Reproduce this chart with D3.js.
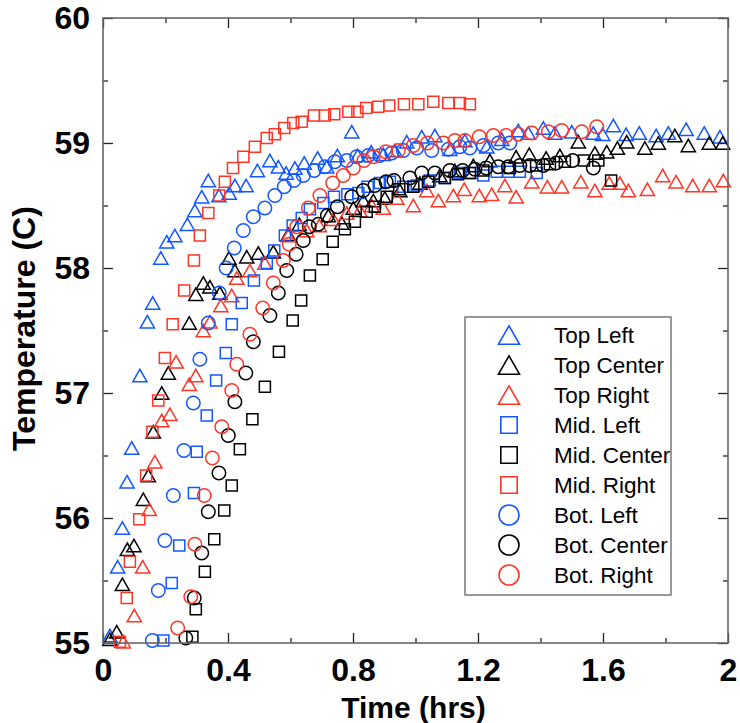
<!DOCTYPE html>
<html>
<head>
<meta charset="utf-8">
<script src="https://cdn.jsdelivr.net/npm/d3@7/dist/d3.min.js"></script>
<style>
  html, body { margin: 0; padding: 0; background: #fff; }
  svg { display: block; }
  .tick text { font-family: "Liberation Sans", Arial, Helvetica, sans-serif; font-weight: bold; }
</style>
</head>
<body>
<svg id="chart" width="740" height="723"></svg>
<script>
// ---------------- DATA ----------------
const xTicks = [0, 0.4, 0.8, 1.2, 1.6, 2];
const xTickLabels = ["0", "0.4", "0.8", "1.2", "1.6", "2"];
const xMinorTicks = [0.2, 0.6, 1.0, 1.4, 1.8];
const yTicks = [55, 56, 57, 58, 59, 60];
const yTickLabels = ["55", "56", "57", "58", "59", "60"];
const yMinorTicks = [55.5, 56.5, 57.5, 58.5, 59.5];

const seriesNames = ["Top Left", "Top Center", "Top Right", "Mid. Left", "Mid. Center", "Mid. Right", "Bot. Left", "Bot. Center", "Bot. Right"];
const seriesColors = ["blue", "black", "red", "blue", "black", "red", "blue", "black", "red"];
const seriesShapes = ["triangle", "triangle", "triangle", "square", "square", "square", "circle", "circle", "circle"];

// [time (hrs), temperature (C)]
const topLeft = [[0.022,55.06],[0.047,55.61],[0.062,55.92],[0.077,56.29],[0.092,56.56],[0.118,57.14],[0.142,57.57],[0.159,57.72],[0.185,58.08],[0.204,58.21],[0.230,58.26],[0.270,58.35],[0.294,58.46],[0.316,58.57],[0.337,58.70],[0.371,58.58],[0.404,58.60],[0.422,58.66],[0.458,58.66],[0.494,58.78],[0.534,58.86],[0.561,58.81],[0.586,58.76],[0.614,58.80],[0.644,58.84],[0.687,58.88],[0.716,58.81],[0.750,58.90],[0.796,59.09],[0.815,58.90],[0.858,58.93],[0.897,58.91],[0.934,58.94],[0.972,59.01],[1.020,59.05],[1.062,59.06],[1.110,58.95],[1.158,59.02],[1.228,58.97],[1.276,59.03],[1.329,59.10],[1.361,59.08],[1.409,59.12],[1.446,59.08],[1.500,59.09],[1.569,59.08],[1.599,59.07],[1.633,59.14],[1.674,59.07],[1.716,59.08],[1.770,59.06],[1.809,59.08],[1.866,59.11],[1.924,59.08],[1.974,59.05]];
const topCenter = [[0.022,55.03],[0.044,55.09],[0.062,55.47],[0.078,55.75],[0.099,55.78],[0.129,56.15],[0.145,56.34],[0.161,56.69],[0.188,57.00],[0.209,57.16],[0.276,57.56],[0.297,57.79],[0.321,57.88],[0.342,57.85],[0.374,57.80],[0.403,58.08],[0.422,57.98],[0.460,58.09],[0.497,58.12],[0.545,58.13],[0.593,58.27],[0.628,58.35],[0.721,58.42],[0.764,58.36],[0.801,58.48],[0.833,58.54],[0.865,58.54],[0.902,58.56],[0.950,58.62],[1.014,58.68],[1.078,58.74],[1.126,58.78],[1.185,58.82],[1.238,58.86],[1.322,58.89],[1.364,58.91],[1.418,58.88],[1.462,58.90],[1.521,59.01],[1.574,58.92],[1.612,58.93],[1.646,58.96],[1.676,59.01],[1.734,58.96],[1.777,59.00],[1.830,59.06],[1.873,58.98],[1.940,59.00],[1.983,59.00]];
const topRight = [[0.065,55.01],[0.100,55.22],[0.127,55.61],[0.148,56.07],[0.166,56.45],[0.188,56.78],[0.214,56.83],[0.234,57.25],[0.276,57.07],[0.297,57.14],[0.321,57.50],[0.342,57.57],[0.377,57.70],[0.412,57.78],[0.428,57.92],[0.470,57.98],[0.518,58.04],[0.593,58.26],[0.652,58.30],[0.692,58.34],[0.737,58.39],[0.780,58.44],[0.822,58.46],[0.860,58.50],[0.897,58.48],[0.940,58.56],[0.993,58.50],[1.036,58.62],[1.073,58.54],[1.121,58.58],[1.156,58.63],[1.204,58.58],[1.244,58.59],[1.286,58.66],[1.322,58.57],[1.372,58.69],[1.422,58.65],[1.468,58.65],[1.529,58.69],[1.574,58.62],[1.620,58.68],[1.654,58.68],[1.681,58.62],[1.742,58.63],[1.791,58.74],[1.834,58.69],[1.887,58.66],[1.940,58.66],[1.985,58.70]];
const midLeft = [[0.193,55.02],[0.220,55.48],[0.244,55.78],[0.291,56.20],[0.300,56.53],[0.332,56.82],[0.362,57.10],[0.393,57.32],[0.412,57.55],[0.444,57.72],[0.483,57.90],[0.524,58.04],[0.548,58.14],[0.582,58.26],[0.607,58.34],[0.636,58.40],[0.662,58.47],[0.705,58.52],[0.739,58.57],[0.782,58.59],[0.817,58.60],[0.847,58.65],[0.886,58.68],[0.918,58.69],[0.961,58.65],[1.004,58.66],[1.046,58.70],[1.094,58.72],[1.142,58.76],[1.180,58.76],[1.217,58.74],[1.260,58.77],[1.297,58.77],[1.334,58.77],[1.388,58.76]];
const midCenter = [[0.286,55.05],[0.297,55.27],[0.326,55.57],[0.356,55.83],[0.388,56.06],[0.412,56.26],[0.438,56.55],[0.478,56.79],[0.518,57.05],[0.563,57.33],[0.607,57.58],[0.634,57.74],[0.662,57.94],[0.703,58.07],[0.735,58.21],[0.774,58.31],[0.806,58.37],[0.844,58.45],[0.870,58.49],[0.908,58.57],[0.948,58.63],[0.993,58.65],[1.041,58.69],[1.094,58.72],[1.136,58.75],[1.174,58.76],[1.217,58.78],[1.302,58.80],[1.386,58.82],[1.430,58.83],[1.478,58.85],[1.539,58.86],[1.585,58.86],[1.626,58.70]];
const midRight = [[0.054,55.01],[0.076,55.36],[0.086,55.65],[0.116,55.99],[0.138,56.34],[0.158,56.69],[0.177,56.94],[0.198,57.28],[0.223,57.55],[0.260,57.82],[0.291,58.06],[0.310,58.26],[0.337,58.44],[0.372,58.58],[0.390,58.69],[0.416,58.80],[0.449,58.89],[0.486,58.97],[0.524,59.04],[0.550,59.07],[0.580,59.12],[0.609,59.16],[0.636,59.17],[0.675,59.22],[0.710,59.22],[0.740,59.23],[0.785,59.25],[0.814,59.25],[0.842,59.28],[0.881,59.29],[0.916,59.30],[0.963,59.31],[1.009,59.31],[1.057,59.33],[1.105,59.32],[1.142,59.32],[1.174,59.31]];
const botLeft = [[0.158,55.02],[0.177,55.42],[0.198,55.82],[0.225,56.18],[0.259,56.54],[0.289,56.92],[0.310,57.27],[0.337,57.56],[0.372,57.80],[0.394,58.00],[0.420,58.16],[0.449,58.30],[0.481,58.41],[0.518,58.48],[0.550,58.58],[0.580,58.65],[0.611,58.70],[0.641,58.74],[0.676,58.78],[0.710,58.81],[0.742,58.85],[0.780,58.86],[0.812,58.89],[0.849,58.90],[0.886,58.90],[0.924,58.92],[0.961,58.94],[1.004,58.96],[1.052,58.94],[1.105,58.95],[1.142,58.97],[1.174,58.96],[1.217,58.98],[1.265,59.00],[1.302,59.00]];
const botCenter = [[0.265,55.04],[0.292,55.36],[0.316,55.72],[0.337,56.05],[0.371,56.36],[0.401,56.66],[0.422,56.93],[0.457,57.16],[0.481,57.41],[0.534,57.62],[0.561,57.80],[0.588,57.98],[0.618,58.11],[0.641,58.22],[0.660,58.33],[0.689,58.35],[0.718,58.42],[0.750,58.49],[0.796,58.57],[0.833,58.62],[0.870,58.66],[0.906,58.69],[0.931,58.70],[0.982,58.72],[1.020,58.76],[1.062,58.76],[1.110,58.78],[1.151,58.78],[1.190,58.79],[1.226,58.80],[1.265,58.81],[1.297,58.81],[1.334,58.82],[1.366,58.82],[1.409,58.82],[1.450,58.84],[1.503,58.86],[1.569,58.80]];
const botRight = [[0.239,55.12],[0.281,55.37],[0.294,55.79],[0.324,56.18],[0.350,56.48],[0.380,56.73],[0.412,57.02],[0.428,57.23],[0.470,57.47],[0.511,57.68],[0.545,57.88],[0.577,58.06],[0.596,58.19],[0.620,58.33],[0.657,58.48],[0.694,58.58],[0.735,58.68],[0.769,58.74],[0.801,58.80],[0.835,58.86],[0.865,58.89],[0.905,58.93],[0.945,58.94],[0.993,58.98],[1.038,59.00],[1.089,59.00],[1.126,59.02],[1.158,59.02],[1.204,59.05],[1.249,59.06],[1.290,59.06],[1.329,59.07],[1.372,59.08],[1.425,59.09],[1.468,59.10],[1.532,59.09],[1.580,59.13]];

const seriesData = [topLeft, topCenter, topRight, midLeft, midCenter, midRight, botLeft, botCenter, botRight];

// ---------------- STYLE / LAYOUT ----------------
const colorMap = { blue: "#1257ff", black: "#000000", red: "#ff3526" };
const margin = { left: 103, top: 18, right: 12, bottom: 80 };
const pw = 625, ph = 625;

const svg = d3.select("#chart");
const g = svg.append("g").attr("transform", `translate(${margin.left},${margin.top})`);

const x = d3.scaleLinear().domain([0, 2]).range([0, pw]);
const y = d3.scaleLinear().domain([55, 60]).range([ph, 0]);

function shapePath(shape, s) {
  if (shape === "triangle") {
    const w = s * 1.05, h = s * 0.92;
    return `M${-w/2},${h/2}L${w/2},${h/2}L0,${-h/2}Z`;
  }
  if (shape === "square") {
    const a = s * 0.82;
    return `M${-a/2},${-a/2}h${a}v${a}h${-a}Z`;
  }
  const r = s / 2;
  return `M${r},0A${r},${r} 0 1,1 ${-r},0A${r},${r} 0 1,1 ${r},0Z`;
}

// points
seriesData.forEach((data, i) => {
  g.append("g")
    .selectAll("path")
    .data(data)
    .join("path")
    .attr("transform", d => `translate(${x(d[0])},${y(d[1])})`)
    .attr("d", shapePath(seriesShapes[i], 13.5))
    .attr("fill", "none")
    .attr("stroke", colorMap[seriesColors[i]])
    .attr("stroke-width", 1.5);
});

// axes
const fontSize = 32;
function styleAxis(sel) {
  sel.select(".domain").remove();
  sel.selectAll(".tick line").attr("stroke", "#222").attr("stroke-width", 1.3);
  sel.selectAll(".tick text").attr("font-size", fontSize).attr("fill", "#000");
}

const xAxis = g.append("g").attr("transform", `translate(0,${ph})`)
  .call(d3.axisBottom(x).tickValues(xTicks).tickSize(-10).tickPadding(15)
    .tickFormat((d, i) => xTickLabels[i]));
styleAxis(xAxis);
const xAxisMinor = g.append("g").attr("transform", `translate(0,${ph})`)
  .call(d3.axisBottom(x).tickValues(xMinorTicks).tickSize(-5).tickFormat(""));
styleAxis(xAxisMinor);
const xTop = g.append("g")
  .call(d3.axisTop(x).tickValues(xTicks).tickSize(-10).tickFormat(""));
styleAxis(xTop);
const xTopMinor = g.append("g")
  .call(d3.axisTop(x).tickValues(xMinorTicks).tickSize(-5).tickFormat(""));
styleAxis(xTopMinor);

const yAxis = g.append("g")
  .call(d3.axisLeft(y).tickValues(yTicks).tickSize(-10).tickPadding(13)
    .tickFormat((d, i) => yTickLabels[i]));
styleAxis(yAxis);
const yAxisMinor = g.append("g")
  .call(d3.axisLeft(y).tickValues(yMinorTicks).tickSize(-5).tickFormat(""));
styleAxis(yAxisMinor);
const yRight = g.append("g").attr("transform", `translate(${pw},0)`)
  .call(d3.axisRight(y).tickValues(yTicks).tickSize(-10).tickFormat(""));
styleAxis(yRight);
const yRightMinor = g.append("g").attr("transform", `translate(${pw},0)`)
  .call(d3.axisRight(y).tickValues(yMinorTicks).tickSize(-5).tickFormat(""));
styleAxis(yRightMinor);

// frame
g.append("rect").attr("x", 0).attr("y", 0).attr("width", pw).attr("height", ph)
  .attr("fill", "none").attr("stroke", "#666").attr("stroke-width", 1.6);

// axis titles
g.append("text")
  .attr("x", pw / 2 - 2).attr("y", ph + 75)
  .attr("text-anchor", "middle")
  .attr("font-family", "Liberation Sans, Arial, sans-serif")
  .attr("font-weight", "bold").attr("font-size", 30)
  .text("Time (hrs)");
g.append("text")
  .attr("transform", `translate(${-68},${ph / 2 - 2}) rotate(-90)`)
  .attr("text-anchor", "middle")
  .attr("font-family", "Liberation Sans, Arial, sans-serif")
  .attr("font-weight", "bold").attr("font-size", 32)
  .text("Temperature (C)");

// legend
const legend = svg.append("g").attr("transform", "translate(465,317)");
legend.append("rect").attr("width", 206).attr("height", 278)
  .attr("fill", "#fff").attr("stroke", "#555").attr("stroke-width", 1.2);
seriesNames.forEach((name, i) => {
  const row = legend.append("g").attr("transform", `translate(0,${18 + i * 30})`);
  row.append("path")
    .attr("transform", "translate(44,0)")
    .attr("d", shapePath(seriesShapes[i], 20))
    .attr("fill", "none")
    .attr("stroke", colorMap[seriesColors[i]])
    .attr("stroke-width", 1.6);
  row.append("text")
    .attr("x", 89).attr("y", 0).attr("dy", "0.35em")
    .attr("font-family", "Liberation Sans, Arial, sans-serif")
    .attr("font-size", 22.5)
    .text(name);
});
</script>
</body>
</html>
